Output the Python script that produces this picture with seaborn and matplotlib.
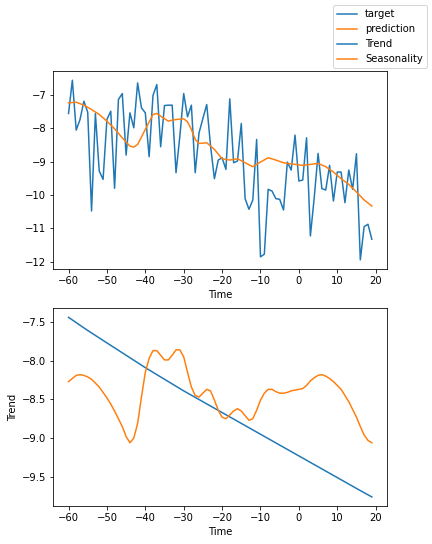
import numpy as np
import pandas as pd
import matplotlib
matplotlib.use("Agg")
import matplotlib.pyplot as plt
import seaborn as sns

time = list(range(-60, 20))
target = [-7.55, -6.55, -8.05, -7.73, -7.18, -7.51, -10.48, -7.55, -9.28, -9.53,
          -7.73, -7.48, -9.80, -7.13, -6.95, -8.80, -7.53, -7.98, -6.63, -7.38,
          -7.53, -8.85, -7.01, -6.68, -8.55, -7.31, -7.30, -7.30, -9.33, -8.23,
          -6.95, -7.65, -7.30, -9.33, -8.13, -7.70, -7.28, -8.53, -9.51, -8.95,
          -8.88, -9.23, -7.11, -9.03, -8.98, -7.85, -10.11, -10.43, -10.15, -8.33,
          -11.86, -11.78, -9.83, -9.88, -10.11, -10.13, -10.45, -9.01, -9.25, -8.20,
          -9.58, -9.55, -8.28, -11.23, -10.08, -8.75, -9.81, -9.85, -9.11, -10.18,
          -9.31, -9.31, -10.23, -9.25, -9.83, -8.76, -11.95, -10.95, -10.88, -11.33]

# model prediction, read at a subset of times
pred_time = [-60, -58, -56, -54, -52, -50, -48, -46, -44, -43, -42, -40, -38, -37,
             -36, -34, -33, -32, -30, -29, -28, -27, -26, -24, -22, -20, -18, -16,
             -14, -12, -10, -8, -6, -4, -3, -1, 1, 3, 5, 7, 9, 11, 13, 15, 17, 19]
prediction = [-7.23, -7.21, -7.30, -7.43, -7.58, -7.78, -8.01, -8.28, -8.53, -8.56,
              -8.48, -8.03, -7.58, -7.55, -7.63, -7.78, -7.75, -7.73, -7.71, -7.80,
              -8.03, -8.33, -8.45, -8.43, -8.63, -8.91, -8.95, -8.91, -9.03, -9.15,
              -9.01, -8.88, -8.95, -9.03, -9.05, -9.08, -9.11, -9.08, -9.05, -9.15,
              -9.31, -9.51, -9.68, -9.91, -10.15, -10.33]

# trend component
trend_time = [-60, -55, -50, -45, -40, -35, -30, -25, -20, -15, -10, -5, 0, 5, 10, 15, 19]
trend = [-7.44, -7.61, -7.77, -7.93, -8.09, -8.24, -8.39, -8.53, -8.67, -8.81,
         -8.95, -9.09, -9.23, -9.37, -9.51, -9.65, -9.76]

# seasonality component (one value per time step)
seasonality = [-8.27, -8.23, -8.19, -8.18, -8.19, -8.21, -8.24, -8.29, -8.34, -8.41,
               -8.48, -8.56, -8.65, -8.75, -8.85, -8.98, -9.06, -9.00, -8.81, -8.47,
               -8.15, -7.97, -7.87, -7.87, -7.93, -7.99, -7.99, -7.93, -7.86, -7.86,
               -7.95, -8.15, -8.34, -8.45, -8.47, -8.42, -8.37, -8.39, -8.51, -8.64,
               -8.73, -8.75, -8.70, -8.65, -8.62, -8.65, -8.71, -8.77, -8.75, -8.64,
               -8.51, -8.42, -8.37, -8.37, -8.40, -8.42, -8.42, -8.41, -8.39, -8.38,
               -8.37, -8.36, -8.32, -8.26, -8.22, -8.19, -8.18, -8.20, -8.23, -8.27,
               -8.32, -8.37, -8.45, -8.53, -8.63, -8.73, -8.85, -8.96, -9.03, -9.06]

fig, axes = plt.subplots(2, 1, figsize=(6, 544 / 72), dpi=72)
fig.subplots_adjust(left=0.1235, right=0.8958, top=0.869, bottom=0.07, hspace=0.2)

ax = axes[0]
sns.lineplot(x=time, y=target, ax=ax, color="C0", label="target")
sns.lineplot(x=pred_time, y=prediction, ax=ax, color="C1", label="prediction")
ax.set_xlabel("Time")
ax.set_ylabel("")
ax.get_legend().remove()

ax = axes[1]
sns.lineplot(x=trend_time, y=trend, ax=ax, color="C0", label="Trend")
sns.lineplot(x=time, y=seasonality, ax=ax, color="C1", label="Seasonality")
ax.set_xlabel("Time")
ax.set_ylabel("Trend")
ax.set_yticks([-7.5, -8.0, -8.5, -9.0, -9.5])
ax.get_legend().remove()

fig.legend()
fig.savefig("out.png", dpi=72)
